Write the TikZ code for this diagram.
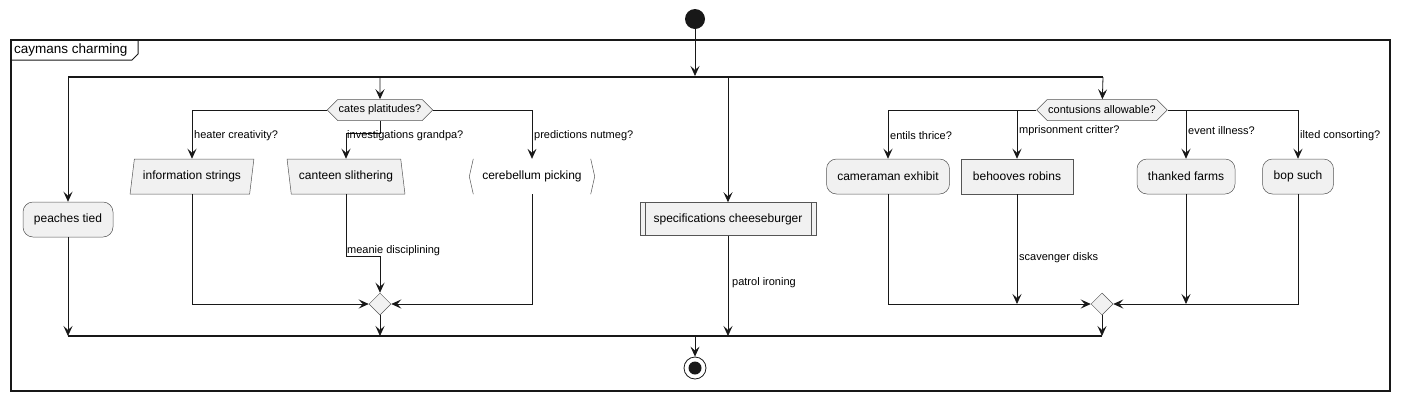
\documentclass[tikz,border=0pt]{standalone}
\usepackage{fontspec}
\setmainfont{Liberation Sans}
\usetikzlibrary{arrows.meta,shapes.geometric,shapes.symbols}
\definecolor{nfill}{HTML}{F1F1F1}
\definecolor{ln}{HTML}{181818}
\definecolor{bd}{HTML}{555555}
\begin{document}
\begin{tikzpicture}[x=1pt,y=-1pt,
  every node/.style={font=\fontsize{12}{14}\selectfont, text=black},
  act/.style={draw=bd, fill=nfill, line width=0.5pt, minimum height=35pt, inner sep=2pt},
  ract/.style={act, rounded corners=10pt},
  para/.style={act, trapezium, trapezium stretches=true},
  lbl/.style={font=\fontsize{11}{13}\selectfont, inner sep=1pt, anchor=west},
  flow/.style={draw=ln, line width=0.8pt, -{Stealth[length=10pt,width=9pt,inset=4pt]}},
  thin/.style={draw=bd, line width=0.5pt},
  bar/.style={draw=ln, line width=1.8pt},
  hexa/.style={shape=signal, signal to=east and west, signal pointer angle=90, draw=bd, fill=nfill,
    line width=0.5pt, minimum height=21pt, font=\fontsize{11}{13}\selectfont, inner sep=1pt},
  merge/.style={shape=diamond, draw=bd, fill=nfill, line width=0.5pt, minimum width=22pt, minimum height=22pt, inner sep=0pt},
]
\useasboundingbox (0,0) rectangle (1401,400);

% frame
\draw[ln, line width=1.3pt] (11,40) rectangle (1390,391);
\draw[ln, line width=1pt] (11,60) -- (132,60) -- (138,54) -- (138,40);
\node[anchor=west, font=\fontsize{13.5}{15}\selectfont, inner sep=0pt] (ftitle) at (14,50) {caymans charming};

% start
\node[circle, fill=ln, minimum size=20pt, inner sep=0pt] (start) at (695,19) {};

% fork bar
\coordinate (fL) at (68,77);
\coordinate (fR) at (1103,77);
\coordinate (f1) at (380,77);
\coordinate (f2) at (695,76);
\coordinate (f3) at (728,77);
\draw[bar] (fL) -- (fR);

% nodes
\node[ract, minimum width=90pt] (peach) at (68,219.5) {peaches tied};
\node[hexa, minimum width=105pt] (cates) at (380,110) {cates platitudes?};
\node[para, trapezium left angle=76, trapezium right angle=104, minimum width=124pt] (info) at (192,176.5) {information strings};
\node[para, trapezium left angle=104, trapezium right angle=76, minimum width=118pt] (cant) at (346,176.5) {canteen slithering};
\node[fill=white, minimum width=125pt, minimum height=35pt, inner sep=2pt] (cereb) at (532,176.5) {cerebellum picking};
\draw[thin] ([xshift=4pt]cereb.north west) -- (cereb.west) -- ([xshift=4pt]cereb.south west);
\draw[thin] ([xshift=-4pt]cereb.north east) -- (cereb.east) -- ([xshift=-4pt]cereb.south east);

\node[act, minimum width=176pt, minimum height=33pt] (spec) at (728,219) {specifications cheeseburger};
\draw[thin] ([xshift=5pt]spec.north west) -- ([xshift=5pt]spec.south west);
\draw[thin] ([xshift=-5pt]spec.north east) -- ([xshift=-5pt]spec.south east);

\node[hexa, minimum width=129pt] (cont) at (1102,110) {contusions allowable?};
\node[ract, minimum width=123pt] (cam) at (888,176.5) {cameraman exhibit};
\node[act, minimum width=112pt] (beh) at (1017,176.5) {behooves robins};
\node[ract, minimum width=98pt] (than) at (1186,176.5) {thanked farms};
\node[ract, minimum width=71pt] (bop) at (1298,176.5) {bop such};

\node[merge] (m1) at (380,304) {};
\node[merge] (m2) at (1102,304) {};

% join bar and end
\coordinate (jL) at (68,336);
\coordinate (jR) at (1102,336);
\draw[bar] (jL) -- (jR);
\node[circle, draw=ln, line width=0.8pt, minimum size=22pt, inner sep=0pt] (endn) at (695,368) {};
\fill[ln] (endn.center) circle (6.5pt);

% connectors from fork
\draw[flow] (start) -- (f2);
\draw[flow] (fL) -- (peach);
\draw[flow] (f1) -- (cates);
\draw[flow] (f3) -- (spec);
\draw[flow] (fR) -- (cont);

% cates branches
\draw[flow] (cates.west) -| (info.north);
\draw[flow] (cates.south) -- (cates.south |- 0,133) -| (cant.north);
\draw[flow] (cates.east) -| (cereb.north);
\node[lbl] (l1) at (193,136) {heater creativity?};
\node[lbl] (l2) at (346,136) {investigations grandpa?};
\node[lbl] (l3) at (533,136) {predictions nutmeg?};

\draw[flow] (info.south) |- (m1.west);
\draw[flow] (cant.south) -- (cant.south |- 0,256) -| (m1.north);
\node[lbl] (l4) at (346,251) {meanie disciplining};
\draw[flow] (cereb.south) |- (m1.east);
\draw[flow] (m1.south) -- (m1.south |- jL);

\draw[flow] (peach.south) -- (jL);
\draw[flow] (spec.south) -- (spec.south |- jL);
\node[lbl] (l5) at (731,283) {patrol ironing};

% contusions branches
\draw[flow] (cont.west) -| (cam.north);
\draw[flow] (cont.west -| beh.north) -- (beh.north);
\draw[flow] (cont.east) -| (bop.north);
\draw[flow] (cont.east -| than.north) -- (than.north);
\node[lbl] (l6) at (889,136) {entils thrice?};
\node[lbl] (l7) at (1018,131) {mprisonment critter?};
\node[lbl] (l8) at (1187,131) {event illness?};
\node[lbl] (l9) at (1299,136) {ilted consorting?};

\draw[flow] (cam.south) |- (m2.west);
\draw[flow] (beh.south) -- (beh.south |- m2);
\node[lbl] (l10) at (1018,258) {scavenger disks};
\draw[flow] (than.south) -- (than.south |- m2);
\draw[flow] (bop.south) |- (m2.east);
\draw[flow] (m2.south) -- (m2.south |- jR);

\draw[flow] (endn.north |- jL) -- (endn.north);
\end{tikzpicture}
\end{document}
